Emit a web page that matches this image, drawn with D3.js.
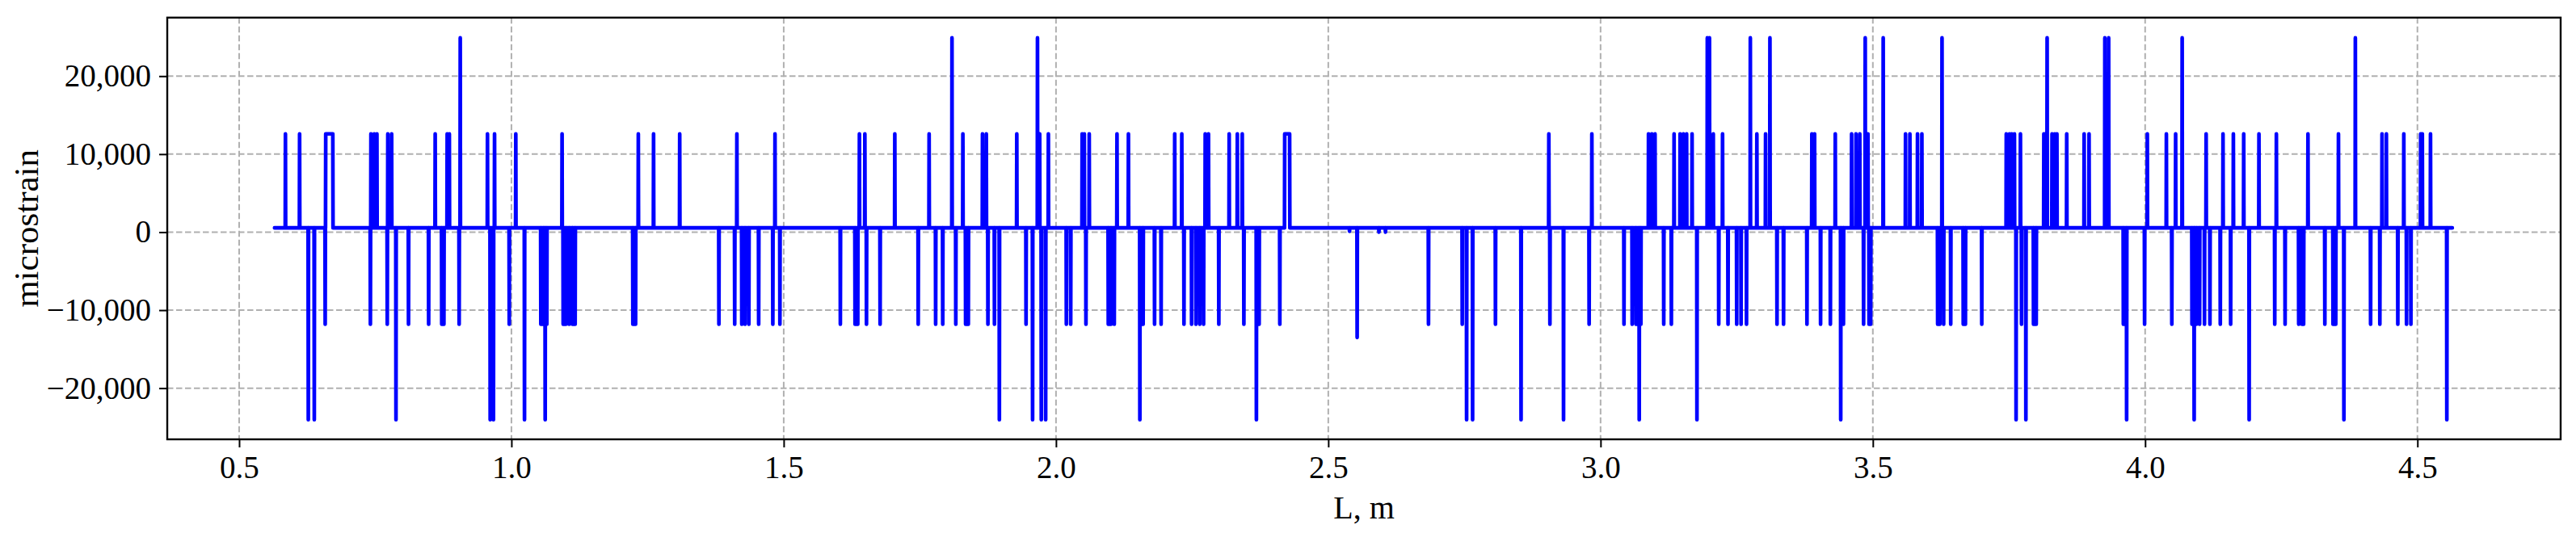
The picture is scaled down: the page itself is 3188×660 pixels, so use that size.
<!DOCTYPE html>
<html>
<head>
<meta charset="utf-8">
<script src="https://cdn.jsdelivr.net/npm/d3@7"></script>
<style>
  html, body { margin: 0; padding: 0; background: #fff; }
  svg text { font-family: "Liberation Serif", "DejaVu Serif", serif; fill: #000; }
</style>
</head>
<body>
<svg id="chart" width="3188" height="660"></svg>
<script>
// ---- data ----
const P = 12600, PP = 24900, N = -11800, NN = -24050;
const baseline = 550;
const lStart = 0.565, lEnd = 4.564;

const spikeL = [
  0.585,0.611,0.627,0.638,0.658,0.741,0.742,0.748,0.753,0.772,0.773,0.780,0.788,0.811,0.848,0.860,0.872,0.876,0.882,0.886,0.904,0.906,0.956,0.961,0.967,0.969,
  0.996,1.008,1.024,1.054,1.059,1.062,1.065,1.093,1.095,1.100,1.106,1.112,1.117,1.223,1.228,1.233,1.261,1.309,1.381,1.410,1.414,1.423,1.429,1.436,1.454,1.480,1.484,1.493,
  1.604,1.631,1.636,1.639,1.649,1.652,1.677,1.704,1.747,1.767,1.779,1.792,1.809,1.816,1.829,1.834,1.839,1.865,1.872,1.875,1.887,1.896,
  1.928,1.945,1.957,1.966,1.970,1.973,1.981,1.986,2.019,2.027,2.048,2.052,2.055,2.061,2.096,2.101,2.107,2.112,2.133,2.154,2.160,2.181,2.193,
  2.218,2.231,2.235,2.249,2.257,2.264,2.271,2.274,2.280,2.299,2.318,2.333,2.342,2.345,2.368,2.373,2.411,
  2.539,2.553,2.593,2.605,2.684,2.746,2.754,2.765,2.807,2.854,2.905,2.907,2.932,2.979,2.984,
  3.043,3.058,3.065,3.071,3.074,3.088,3.094,3.100,3.116,3.130,3.135,3.146,3.152,3.158,3.168,3.177,3.196,3.200,3.207,3.217,3.224,3.234,3.250,3.258,3.268,3.275,
  3.287,3.303,3.311,3.324,3.336,3.379,3.388,3.393,3.404,3.422,3.431,3.441,3.446,3.461,3.469,3.476,3.483,3.486,3.491,3.493,3.496,3.519,3.560,3.568,3.582,3.590,
  3.619,3.623,3.627,3.630,3.643,3.666,3.670,3.700,3.745,3.751,3.755,3.760,3.763,3.771,3.773,3.781,3.795,3.800,3.814,3.817,3.820,3.829,3.834,3.838,3.856,3.888,3.897,
  3.926,3.933,3.960,3.966,3.999,4.004,4.039,4.049,4.056,4.068,4.086,4.090,4.094,4.100,4.109,4.112,4.119,4.138,4.143,4.157,4.162,4.181,4.191,
  4.209,4.238,4.241,4.257,4.282,4.288,4.291,4.299,4.330,4.345,4.350,4.355,4.365,4.386,4.414,4.431,4.435,4.443,4.464,4.475,4.480,4.488,4.506,4.509,4.524,4.554
];
const spikeV = [
  P,P,NN,NN,N,N,P,P,P,N,P,P,NN,N,N,P,N,N,P,P,N,PP,P,NN,NN,P,
  N,P,NN,N,N,NN,N,P,N,N,N,N,N,N,N,P,P,P,N,N,P,N,N,N,N,N,P,N,
  N,N,N,P,P,N,N,P,N,P,N,N,PP,N,P,N,N,P,P,N,N,NN,
  P,N,NN,PP,P,NN,NN,P,N,N,P,P,N,P,N,N,N,P,P,NN,N,N,N,
  P,P,N,N,N,N,N,P,P,N,P,P,P,N,NN,N,N,
  100,-13500,0,0,N,N,NN,NN,N,NN,P,N,NN,N,P,
  N,N,N,NN,N,P,P,P,N,N,P,P,P,P,P,NN,PP,PP,P,N,P,N,N,N,N,PP,
  P,P,PP,N,N,N,P,P,N,N,P,NN,N,P,P,P,N,PP,P,N,N,PP,P,P,P,P,
  N,N,PP,N,N,N,N,N,P,P,P,P,NN,P,N,NN,N,N,P,P,PP,P,P,P,P,P,P,
  PP,PP,N,NN,N,P,P,N,P,PP,N,NN,N,N,N,P,N,N,P,N,P,P,NN,
  P,N,P,N,N,N,N,P,N,N,N,P,NN,PP,N,N,P,P,N,P,N,N,P,P,P,NN
];
// wide flat-topped pulses
const plateauStart = [0.659, 2.420];
const plateauEnd   = [0.672, 2.429];
const plateauV     = [P, P];

const xTicks = [0.5, 1.0, 1.5, 2.0, 2.5, 3.0, 3.5, 4.0, 4.5];
const yTicks = [-20000, -10000, 0, 10000, 20000];
const xLabel = "L, m";
const yLabel = "microstrain";

(function () {
  // ---- build series ----
  const events = [];
  spikeL.forEach((l, i) => events.push({ s: l, e: l, v: spikeV[i] }));
  plateauStart.forEach((s, i) => events.push({ s: s, e: plateauEnd[i], v: plateauV[i] }));
  events.sort((a, b) => a.s - b.s);
  const hw = 0.0004;
  const series = [[lStart, baseline]];
  events.forEach(ev => {
    series.push([ev.s - hw, baseline]);
    series.push([ev.s, ev.v]);
    if (ev.e > ev.s) series.push([ev.e, ev.v]);
    series.push([ev.e + hw, baseline]);
  });
  series.push([lEnd, baseline]);

  // ---- layout ----
  const pL = 207, pR = 3169, pT = 21.8, pB = 544;
  const svg = d3.select("#chart");
  const x = d3.scaleLinear().domain([0.368, 4.763]).range([pL, pR]);
  const y = d3.scaleLinear().domain([-26560, 27500]).range([pB, pT]);

  svg.append("defs").append("clipPath").attr("id", "clip")
    .append("rect").attr("x", pL).attr("y", pT).attr("width", pR - pL).attr("height", pB - pT);

  // grid
  const grid = svg.append("g");
  grid.selectAll(".gx").data(xTicks).enter().append("line")
    .attr("x1", d => x(d)).attr("x2", d => x(d)).attr("y1", pT).attr("y2", pB)
    .attr("stroke", "#b0b0b0").attr("stroke-width", 2).attr("stroke-dasharray", "7.5,3.5");
  grid.selectAll(".gy").data(yTicks).enter().append("line")
    .attr("y1", d => y(d)).attr("y2", d => y(d)).attr("x1", pL).attr("x2", pR)
    .attr("stroke", "#b0b0b0").attr("stroke-width", 2).attr("stroke-dasharray", "7.5,3.5");

  // line
  const line = d3.line().x(d => x(d[0])).y(d => y(d[1]));
  svg.append("path").datum(series)
    .attr("clip-path", "url(#clip)")
    .attr("d", line).attr("fill", "none").attr("stroke", "#0000ff")
    .attr("stroke-width", 4.6).attr("stroke-linejoin", "round").attr("stroke-linecap", "round");

  // axes
  const xAxis = d3.axisBottom(x).tickValues(xTicks).tickFormat(d3.format(".1f")).tickSize(10).tickPadding(10);
  const yAxis = d3.axisLeft(y).tickValues(yTicks).tickFormat(d3.format(",")).tickSize(10).tickPadding(10);
  const gx = svg.append("g").attr("transform", `translate(0,${pB})`).call(xAxis);
  const gy = svg.append("g").attr("transform", `translate(${pL},0)`).call(yAxis);
  [gx, gy].forEach(g => {
    g.select(".domain").remove();
    g.selectAll(".tick line").attr("stroke", "#000").attr("stroke-width", 2);
    g.selectAll(".tick text").attr("font-size", 39).attr("font-family", '"Liberation Serif", serif');
  });

  // frame
  svg.append("rect").attr("x", pL).attr("y", pT).attr("width", pR - pL).attr("height", pB - pT)
    .attr("fill", "none").attr("stroke", "#000").attr("stroke-width", 2.4);

  // labels
  svg.append("text").attr("x", (pL + pR) / 2).attr("y", 642)
    .attr("text-anchor", "middle").attr("font-size", 40).text(xLabel);
  svg.append("text").attr("transform", `translate(47,${(pT + pB) / 2}) rotate(-90)`)
    .attr("text-anchor", "middle").attr("font-size", 43).text(yLabel);
})();
</script>
</body>
</html>
